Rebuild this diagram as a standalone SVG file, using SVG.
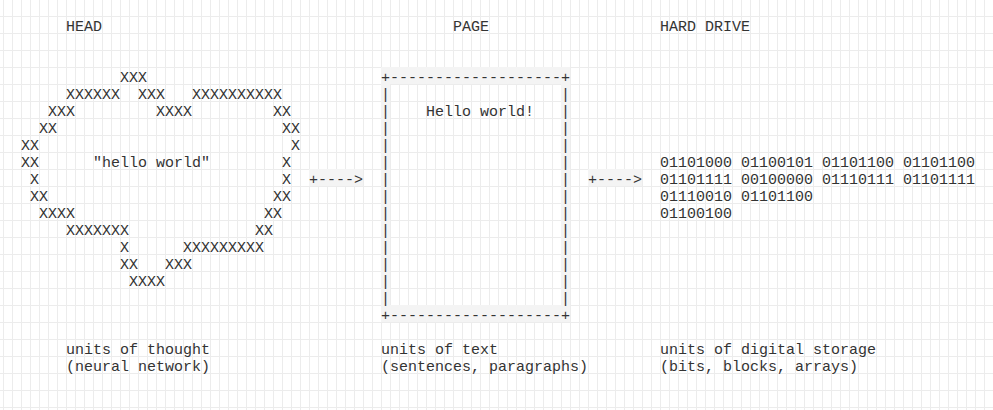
<svg xmlns="http://www.w3.org/2000/svg" width="993" height="410" viewBox="0 0 993 410" xml:space="preserve">
<style>
text { font-family: "Liberation Mono", "DejaVu Sans Mono", monospace; font-size: 15px; fill: #333; white-space: pre; }
.cellbg { fill: #f4f4f4; }
</style>
<defs>
<pattern id="grid" x="3" y="16" width="9" height="17" patternUnits="userSpaceOnUse">
<rect x="0" y="0" width="1" height="17" fill="#ececec"/>
<rect x="0" y="0" width="9" height="1" fill="#ececec"/>
</pattern>
</defs>
<rect width="993" height="410" fill="#ffffff"/>
<rect width="993" height="410" fill="url(#grid)"/>

<g id="head">
<text x="66" y="31">HEAD</text>
<text x="120" y="82">XXX</text>
<text x="66" y="99">XXXXXX  XXX   XXXXXXXXXX</text>
<text x="48" y="116">XXX         XXXX         XX</text>
<text x="39" y="133">XX</text><text x="282" y="133">XX</text>
<text x="21" y="150">XX</text><text x="291" y="150">X</text>
<text x="21" y="167">XX</text><text x="93" y="167">"hello world"</text><text x="282" y="167">X</text>
<text x="30" y="184">X</text><text x="282" y="184">X</text>
<text x="30" y="201">XX</text><text x="273" y="201">XX</text>
<text x="39" y="218">XXXX</text><text x="264" y="218">XX</text>
<text x="66" y="235">XXXXXXX</text><text x="255" y="235">XX</text>
<text x="120" y="252">X</text><text x="183" y="252">XXXXXXXXX</text>
<text x="120" y="269">XX</text><text x="165" y="269">XXX</text>
<text x="129" y="286">XXXX</text>
<text x="66" y="354">units of thought</text>
<text x="66" y="371">(neural network)</text>
</g>

<g id="page">
<rect class="cellbg" x="381" y="67" width="189" height="17"/>
<rect class="cellbg" x="381" y="305" width="189" height="17"/>
<rect class="cellbg" x="381" y="67" width="9" height="255"/>
<rect class="cellbg" x="561" y="67" width="9" height="255"/>
<text x="453" y="31">PAGE</text>
<text x="381" y="82">+-------------------+</text>
<text x="381" y="99">|</text><text x="561" y="99">|</text>
<text x="381" y="116">|</text><text x="426" y="116">Hello world!</text><text x="561" y="116">|</text>
<text x="381" y="133">|</text><text x="561" y="133">|</text>
<text x="381" y="150">|</text><text x="561" y="150">|</text>
<text x="381" y="167">|</text><text x="561" y="167">|</text>
<text x="381" y="184">|</text><text x="561" y="184">|</text>
<text x="381" y="201">|</text><text x="561" y="201">|</text>
<text x="381" y="218">|</text><text x="561" y="218">|</text>
<text x="381" y="235">|</text><text x="561" y="235">|</text>
<text x="381" y="252">|</text><text x="561" y="252">|</text>
<text x="381" y="269">|</text><text x="561" y="269">|</text>
<text x="381" y="286">|</text><text x="561" y="286">|</text>
<text x="381" y="303">|</text><text x="561" y="303">|</text>
<text x="381" y="320">+-------------------+</text>
<text x="381" y="354">units of text</text>
<text x="381" y="371">(sentences, paragraphs)</text>
</g>

<g id="harddrive">
<text x="660" y="31">HARD DRIVE</text>
<text x="660" y="167">01101000 01100101 01101100 01101100</text>
<text x="660" y="184">01101111 00100000 01110111 01101111</text>
<text x="660" y="201">01110010 01101100</text>
<text x="660" y="218">01100100</text>
<text x="660" y="354">units of digital storage</text>
<text x="660" y="371">(bits, blocks, arrays)</text>
</g>

<g id="connectors">
<rect class="cellbg" x="309" y="169" width="54" height="17"/>
<rect class="cellbg" x="588" y="169" width="54" height="17"/>
<text x="309" y="184">+----&gt;</text>
<text x="588" y="184">+----&gt;</text>
</g>
</svg>
